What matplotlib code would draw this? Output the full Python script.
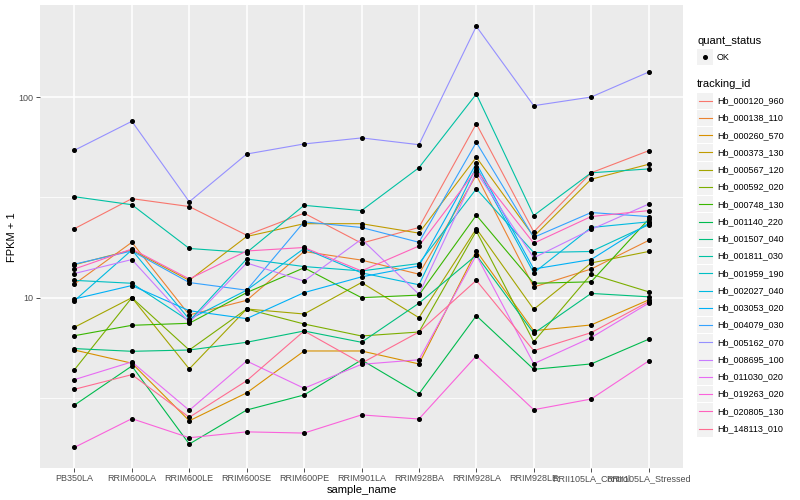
import matplotlib
matplotlib.use("Agg")
import matplotlib.pyplot as plt
import numpy as np
from matplotlib.ticker import FixedLocator, NullFormatter
from matplotlib.patches import Rectangle

plt.rcParams['font.family'] = ['Liberation Sans', 'DejaVu Sans']

samples = ["PB350LA", "RRIM600LA", "RRIM600LE", "RRIM600SE", "RRIM600PE",
           "RRIM901LA", "RRIM928BA", "RRIM928LA", "RRIM928LE",
           "RRII105LA_Control", "RRII105LA_Stressed"]

tracking_ids = ["Hb_000120_960", "Hb_000138_110", "Hb_000260_570", "Hb_000373_130",
                "Hb_000567_120", "Hb_000592_020", "Hb_000748_130", "Hb_001140_220",
                "Hb_001507_040", "Hb_001811_030", "Hb_001959_190", "Hb_002027_040",
                "Hb_003053_020", "Hb_004079_030", "Hb_005162_070", "Hb_008695_100",
                "Hb_011030_020", "Hb_019263_020", "Hb_020805_130", "Hb_148113_010"]

colors = ["#F8766D", "#EA8331", "#D89000", "#C09B00", "#A3A500", "#7CAE00",
          "#39B600", "#00BB4E", "#00BF7D", "#00C1A3", "#00BFC4", "#00BAE0",
          "#00B0F6", "#35A2FF", "#9590FF", "#C77CFF", "#E76BF3", "#FA62DB",
          "#FF62BC", "#FF6C91"]

# FPKM + 1 values, one list per tracking_id (order of samples)
hb_000120_960 = [22.1, 31.2, 28.5, 20.5, 26.4, 18.7, 22.4, 73.8, 21.3, 42.0, 54.1]
hb_000138_110 = [11.7, 18.9, 8.2, 9.7, 17.0, 15.4, 13.1, 40.9, 11.3, 13.9, 19.3]
hb_000260_570 = [5.48, 4.71, 2.43, 3.35, 5.42, 5.42, 4.67, 17.1, 6.84, 7.31, 9.74]
hb_000373_130 = [14.6, 17.3, 12.2, 20.2, 23.4, 23.4, 21.0, 50.2, 20.2, 39.0, 46.3]
hb_000567_120 = [7.12, 10.0, 4.41, 8.78, 8.29, 11.9, 7.95, 22.1, 8.75, 14.9, 17.0]
hb_000592_020 = [4.37, 10.0, 5.48, 8.78, 7.39, 6.44, 6.74, 21.5, 6.03, 13.1, 10.7]
hb_000748_130 = [6.46, 7.28, 7.45, 10.6, 14.1, 10.0, 10.3, 25.8, 11.8, 12.0, 24.6]
hb_001140_220 = [2.91, 4.56, 1.86, 2.75, 3.27, 4.89, 3.31, 8.13, 4.39, 4.67, 6.20]
hb_001507_040 = [5.57, 5.40, 5.48, 5.99, 6.82, 5.99, 9.38, 16.3, 6.64, 10.5, 10.1]
hb_001811_030 = [31.9, 29.1, 17.6, 16.8, 28.9, 27.2, 44.5, 103.8, 25.7, 42.0, 43.9]
hb_001959_190 = [12.2, 11.8, 7.65, 15.6, 14.3, 13.6, 14.8, 34.9, 16.8, 17.0, 23.1]
hb_002027_040 = [9.66, 17.3, 7.80, 10.9, 17.6, 13.3, 11.6, 45.0, 13.3, 22.4, 23.9]
hb_003053_020 = [9.85, 11.5, 8.61, 7.86, 10.6, 12.7, 14.4, 46.8, 13.9, 15.5, 23.5]
hb_004079_030 = [14.7, 17.1, 11.9, 10.9, 23.9, 22.4, 18.9, 59.6, 20.0, 26.6, 25.4]
hb_005162_070 = [54.4, 75.9, 30.1, 52.1, 58.5, 62.7, 58.0, 226.0, 90.8, 100.3, 133.6]
hb_008695_100 = [13.2, 15.5, 7.52, 14.9, 12.1, 19.6, 10.4, 42.4, 15.8, 21.9, 29.3]
hb_011030_020 = [3.90, 4.78, 2.74, 4.83, 3.53, 4.65, 4.90, 16.3, 4.68, 6.32, 9.38]
hb_019263_020 = [1.79, 2.49, 2.00, 2.14, 2.11, 2.60, 2.48, 5.12, 2.76, 3.12, 4.83]
hb_020805_130 = [13.9, 17.5, 12.4, 17.1, 17.8, 13.6, 18.1, 43.4, 18.7, 25.4, 27.2]
hb_148113_010 = [3.49, 4.13, 2.53, 3.85, 6.82, 4.71, 6.74, 12.2, 5.44, 6.69, 9.55]

series = [hb_000120_960, hb_000138_110, hb_000260_570, hb_000373_130,
          hb_000567_120, hb_000592_020, hb_000748_130, hb_001140_220,
          hb_001507_040, hb_001811_030, hb_001959_190, hb_002027_040,
          hb_003053_020, hb_004079_030, hb_005162_070, hb_008695_100,
          hb_011030_020, hb_019263_020, hb_020805_130, hb_148113_010]

W, H = 800, 500
fig = plt.figure(figsize=(8, 5), dpi=100)
fig.patch.set_facecolor('white')
pl, pr, pt, pb = 40, 683, 5, 468
ax = fig.add_axes([pl / W, 1 - pb / H, (pr - pl) / W, (pb - pt) / H])
ax.set_facecolor('#EBEBEB')

x = np.arange(len(samples))
for vals, col in zip(series, colors):
    ax.plot(x, vals, color=col, lw=0.8, zorder=3, solid_joinstyle='round')
for vals in series:
    ax.plot(x, vals, linestyle='none', marker='o', color='black', ms=2.6, zorder=4)

ax.set_yscale('log')
ax.set_xlim(-0.6, len(samples) - 1 + 0.6)
ax.set_ylim(10 ** 0.150, 10 ** 2.4606)
ax.set_xticks(x)
ax.set_xticklabels(samples)
ax.yaxis.set_major_locator(FixedLocator([10, 100]))
ax.set_yticklabels(['10', '100'])
ax.yaxis.set_minor_locator(FixedLocator([10 ** 0.5, 10 ** 1.5]))
ax.yaxis.set_minor_formatter(NullFormatter())
ax.grid(True, which='major', color='white', lw=1.1, zorder=0)
ax.grid(True, which='minor', axis='y', color='white', lw=0.55, zorder=0)
ax.set_axisbelow(True)
ax.tick_params(which='minor', length=0)
ax.tick_params(which='major', length=3, width=0.6, color='#333333',
               labelsize=6.5, labelcolor='#4D4D4D', pad=1.5)
for s in ax.spines.values():
    s.set_visible(False)

# overlay in pixel coordinates for titles and legend
lax = fig.add_axes([0, 0, 1, 1], facecolor='none')
lax.set_xlim(0, W)
lax.set_ylim(H, 0)
lax.axis('off')

lax.text(12, 237, "FPKM + 1", rotation=90, ha='center', va='center', fontsize=8)
lax.text((pl + pr) / 2, 490, "sample_name", ha='center', va='center', fontsize=8)

lx = 697
lax.text(lx, 41, "quant_status", ha='left', va='center', fontsize=8)
lax.add_patch(Rectangle((lx, 49.3), 16, 16, facecolor='#F2F2F2', edgecolor='none'))
lax.plot([lx + 8], [57.3], marker='o', color='black', ms=2.6)
lax.text(lx + 20, 57.3, "OK", ha='left', va='center', fontsize=6.5)

lax.text(lx, 84, "tracking_id", ha='left', va='center', fontsize=8)
for i, (tid, col) in enumerate(zip(tracking_ids, colors)):
    yc = 100.7 + 17.26 * i
    lax.add_patch(Rectangle((lx, yc - 8.2), 16, 16.4, facecolor='#F2F2F2', edgecolor='none'))
    lax.plot([lx + 1.5, lx + 14.5], [yc, yc], color=col, lw=0.8)
    lax.text(lx + 20, yc, tid, ha='left', va='center', fontsize=6.5)

fig.savefig("out.png", dpi=100)
